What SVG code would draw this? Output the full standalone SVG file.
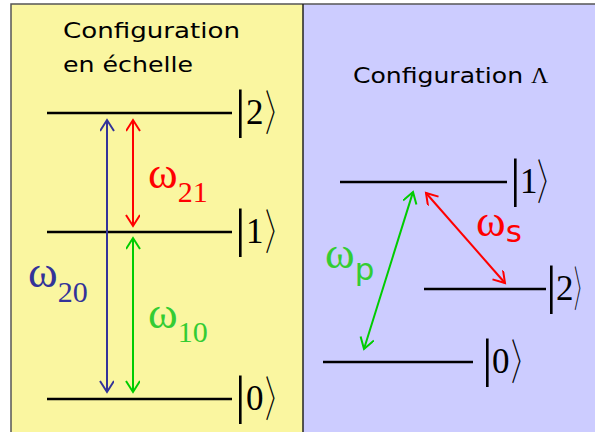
<svg xmlns="http://www.w3.org/2000/svg" width="595" height="432" viewBox="0 0 595 432">
<style>
.lvl{stroke:#000;stroke-width:2.5;fill:none}
.title{font-family:"DejaVu Sans","Liberation Sans",sans-serif;font-size:21px;fill:#000}
.ket{fill:#000}
.bar{font-family:"Liberation Serif",serif;font-size:53px}
.dig{font-family:"Liberation Serif",serif;font-size:35px}
.br{font-family:"Noto Sans CJK JP","DejaVu Sans",sans-serif;font-weight:300;font-size:48px}
.om{font-family:"Liberation Serif",serif;font-size:45px}
.sub{font-family:"Liberation Serif",serif;font-size:30px}
.subs{font-family:"DejaVu Sans",sans-serif;font-size:31px}
.arr{fill:none;stroke-width:2}
</style>
<defs>
<marker id="mb" markerUnits="userSpaceOnUse" markerWidth="16" markerHeight="16" refX="12" refY="7" orient="auto-start-reverse" viewBox="0 0 16 16"><path d="M1,0 L12,7 L1,14" fill="none" stroke="#333399" stroke-width="2"/></marker>
<marker id="mr" markerUnits="userSpaceOnUse" markerWidth="16" markerHeight="16" refX="12" refY="7" orient="auto-start-reverse" viewBox="0 0 16 16"><path d="M1,0 L12,7 L1,14" fill="none" stroke="#FF0000" stroke-width="2"/></marker>
<marker id="mg" markerUnits="userSpaceOnUse" markerWidth="16" markerHeight="16" refX="12" refY="7" orient="auto-start-reverse" viewBox="0 0 16 16"><path d="M1,0 L12,7 L1,14" fill="none" stroke="#00CC00" stroke-width="2"/></marker>
</defs>
<rect x="0" y="0" width="595" height="432" fill="#fff"/>
<g id="panels">
<rect x="11" y="4" width="292" height="430" fill="#FAF6A0"/>
<rect x="303" y="4" width="294" height="430" fill="#CCCCFF"/>
<path d="M11,434 V4 H595" fill="none" stroke="#555" stroke-width="1.5"/>
<line x1="303" y1="4" x2="303" y2="432" stroke="#222" stroke-width="1.5"/>
</g>
<g id="titles">
<text class="title" x="63" y="38" textLength="177" lengthAdjust="spacingAndGlyphs">Configuration</text>
<text class="title" x="63" y="72" textLength="130" lengthAdjust="spacingAndGlyphs">en échelle</text>
<text class="title" x="353" y="83"><tspan textLength="178" lengthAdjust="spacingAndGlyphs">Configuration </tspan><tspan font-family="Liberation Serif,serif" font-size="24">Λ</tspan></text>
</g>
<g id="L2">
<line class="lvl" x1="47" y1="113" x2="232" y2="113"/>
<text class="ket"><tspan class="bar" x="235" y="127">|</tspan><tspan class="dig" x="246" y="124">2</tspan><tspan class="br" x="265" y="130" textLength="24" lengthAdjust="spacingAndGlyphs">〉</tspan></text>
</g>
<g id="L1">
<line class="lvl" x1="47" y1="232" x2="232" y2="232"/>
<text class="ket"><tspan class="bar" x="235" y="246">|</tspan><tspan class="dig" x="246" y="243">1</tspan><tspan class="br" x="265" y="249" textLength="24" lengthAdjust="spacingAndGlyphs">〉</tspan></text>
</g>
<g id="L0">
<line class="lvl" x1="47" y1="399" x2="232" y2="399"/>
<text class="ket"><tspan class="bar" x="235" y="413">|</tspan><tspan class="dig" x="246" y="410">0</tspan><tspan class="br" x="265" y="416" textLength="24" lengthAdjust="spacingAndGlyphs">〉</tspan></text>
</g>
<g id="R1">
<line class="lvl" x1="340" y1="182" x2="507" y2="182"/>
<text class="ket"><tspan class="bar" x="510" y="196">|</tspan><tspan class="dig" x="520" y="193">1</tspan><tspan class="br" x="537" y="199" textLength="24" lengthAdjust="spacingAndGlyphs">〉</tspan></text>
</g>
<g id="R2">
<line class="lvl" x1="424" y1="289" x2="546" y2="289"/>
<text class="ket"><tspan class="bar" x="546" y="303">|</tspan><tspan class="dig" x="556" y="300">2</tspan><tspan class="br" x="574" y="306" textLength="16" lengthAdjust="spacingAndGlyphs">〉</tspan></text>
</g>
<g id="R0">
<line class="lvl" x1="323" y1="362" x2="473" y2="362"/>
<text class="ket"><tspan class="bar" x="482" y="376">|</tspan><tspan class="dig" x="492" y="373">0</tspan><tspan class="br" x="511" y="379" textLength="24" lengthAdjust="spacingAndGlyphs">〉</tspan></text>
</g>
<g id="connectors">
<line class="arr" stroke="#333399" x1="107" y1="120" x2="107" y2="392" marker-start="url(#mb)" marker-end="url(#mb)"/>
<line class="arr" stroke="#FF0000" x1="133" y1="120" x2="133" y2="226" marker-start="url(#mr)" marker-end="url(#mr)"/>
<line class="arr" stroke="#00CC00" x1="133" y1="238" x2="133" y2="392" marker-start="url(#mg)" marker-end="url(#mg)"/>
<line class="arr" stroke="#00CC00" x1="413" y1="192" x2="364" y2="349" marker-start="url(#mg)" marker-end="url(#mg)"/>
<line class="arr" stroke="#FF0000" x1="426" y1="193" x2="505" y2="283" marker-start="url(#mr)" marker-end="url(#mr)"/>
</g>
<g id="labels">
<text x="148" y="188" fill="#FF0000"><tspan class="om">ω</tspan><tspan class="sub" dy="14">21</tspan></text>
<text x="28" y="287" fill="#333399"><tspan class="om">ω</tspan><tspan class="sub" dy="15">20</tspan></text>
<text x="148" y="328" fill="#33CC33"><tspan class="om">ω</tspan><tspan class="sub" dy="14">10</tspan></text>
<text x="325" y="268" fill="#33CC33"><tspan class="om" font-size="42">ω</tspan><tspan class="subs" dy="12">p</tspan></text>
<text x="476" y="236" fill="#FF0000"><tspan class="om" font-size="42">ω</tspan><tspan class="subs" dy="6">s</tspan></text>
</g>
</svg>
